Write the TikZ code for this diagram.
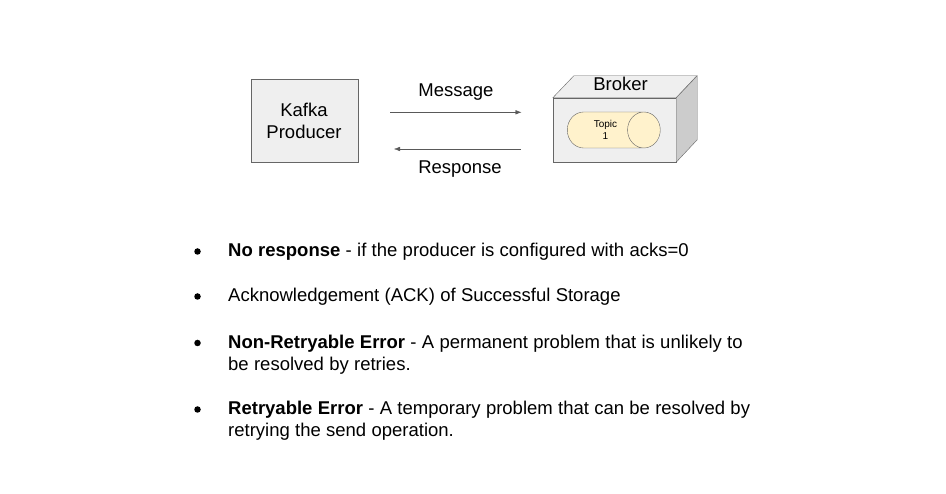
\documentclass[tikz,border=0pt]{standalone}
\usepackage{fontspec}
\setmainfont{Liberation Sans}
\usepackage{tikz}
\usetikzlibrary{arrows.meta}
\usetikzlibrary{positioning}
\usetikzlibrary{shapes.geometric}

\definecolor{boxgray}{HTML}{EFEFEF}
\definecolor{sidegray}{HTML}{CCCCCC}
\definecolor{edgegray}{HTML}{666666}
\definecolor{arrowgray}{HTML}{595959}
\definecolor{topicfill}{HTML}{FFF2CC}

\begin{document}
\begin{tikzpicture}[x=1pt,y=-1pt,
  txt/.style={font=\fontsize{18.5}{22}\selectfont,inner sep=0pt},
  box/.style={draw=edgegray,fill=boxgray,inner sep=0pt},
  flow/.style={draw=arrowgray,-{Latex[length=6pt,width=4.5pt]}},
  dot/.style={circle,fill,inner sep=0pt,minimum size=6.5pt},
  item/.style={txt,text width=540pt,align=left,anchor=base west,
    execute at begin node={\spaceskip=5.3pt\relax}}]
  \useasboundingbox[fill=white] (0,0) rectangle (946,494);

  % producer and broker
  \node[box,minimum width=107pt,minimum height=83pt] (producer) at (304.5,120.5){};
  \node[txt,anchor=base] (kafka) at (304,116.5){Kafka};
  \node[txt,anchor=base] (prod) at (304,138.5){Producer};

  \node[box,minimum width=123pt,minimum height=64pt] (broker) at (614.5,130){};
  \draw[box] (broker.north west)--++(21,-22)--++(123,0)--(broker.north east)--cycle;
  \draw[box,fill=sidegray] (broker.north east)--++(21,-22)--++(0,64)--(broker.south east)--cycle;
  \node[txt,anchor=base] (brk) at (620.5,90.5){Broker};
  \node[cylinder,draw=edgegray,fill=topicfill,minimum height=93pt,minimum width=36pt,
        aspect=1.7,inner sep=0pt,align=center,font=\fontsize{10}{12}\selectfont] (topic) at (605.5,130){Topic\\1};

  % request and response
  \coordinate (m1) at (390,112.3);
  \coordinate (m2) at (521.5,112.3);
  \coordinate (r1) at (520.5,149);
  \coordinate (r2) at (394,149);
  \draw[flow] (m1)--(m2);
  \draw[flow] (r1)--(r2);
  \node[txt,anchor=base] (msg) at (456,97){Message};
  \node[txt,anchor=base] (resp) at (460,174){Response};

  % responses
  \node[item] (t1) at (228,257){\textbf{No response} - if the producer is configured with acks=0};
  \node[item] (t2) at (228,302){Acknowledgement (ACK) of Successful Storage};
  \node[item] (t3) at (228,348.5){\textbf{Non-Retryable Error} - A permanent problem that is unlikely to\\be resolved by retries.};
  \node[item] (t4) at (228,415){\textbf{Retryable Error} - A temporary problem that can be resolved by\\retrying the send operation.};
  \foreach \i in {1,...,4}
    \node[dot] (d\i) at ([xshift=-30.5pt,yshift=5.5pt]t\i.base west){};
\end{tikzpicture}
\end{document}
